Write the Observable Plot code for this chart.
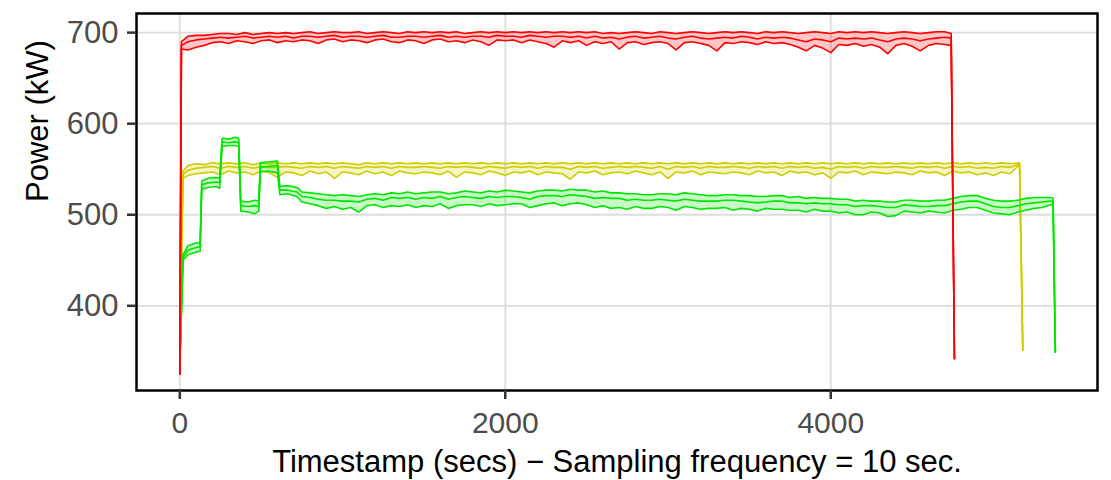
<!DOCTYPE html>
<html>
<head>
<meta charset="utf-8">
<script src="https://cdn.jsdelivr.net/npm/d3@7"></script>
<script src="https://cdn.jsdelivr.net/npm/@observablehq/plot@0.6"></script>
<style>
  html, body { margin: 0; padding: 0; background: white; }
</style>
</head>
<body>
<div id="chart"></div>
<script>
// ---- Data ----
const xTicks = [0, 2000, 4000];
const yTicks = [400, 500, 600, 700];
const xLabel = "Timestamp (secs) \u2212 Sampling frequency = 10 sec.";
const yLabel = "Power (kW)";

// Red series
const redT = [0,10,50,100,150,200,250,300,350,400,450,500,550,600,650,700,750,800,850,900,950,1000,1050,1100,1150,1200,1250,1300,1350,1400,1450,1500,1550,1600,1650,1700,1750,1800,1850,1900,1950,2000,2050,2100,2150,2200,2250,2300,2350,2400,2450,2500,2550,2600,2650,2700,2750,2800,2850,2900,2950,3000,3050,3100,3150,3200,3250,3300,3350,3400,3450,3500,3550,3600,3650,3700,3750,3800,3850,3900,3950,4000,4050,4100,4150,4200,4250,4300,4350,4400,4450,4500,4550,4600,4650,4700,4740,4760];
const redHi  = [325,690,696,697,697,698,699,699,698,700,698,699,700,699,700,699,700,701,699,700,701,700,700,701,699,700,701,700,699,701,700,701,700,701,700,701,699,700,701,700,701,700,701,700,701,700,701,700,701,700,701,700,701,699,700,699,700,701,700,699,701,700,699,700,701,700,699,700,701,700,701,700,699,701,700,701,700,699,700,701,700,699,701,700,701,700,701,700,699,700,701,700,699,700,701,701,699,342];
const redMid = [325,686,690,692,693,694,695,694,695,696,694,695,696,695,696,694,696,696,695,696,697,695,696,696,695,696,697,695,695,696,696,695,696,697,695,696,695,696,696,695,697,696,696,695,697,696,695,696,696,695,696,694,696,694,695,693,695,696,694,695,696,694,693,695,696,694,693,694,695,694,696,695,693,695,694,695,694,692,690,693,692,690,694,693,694,693,694,692,690,693,694,693,691,693,694,695,694,342];
const redLo  = [325,682,681,684,686,689,690,688,691,690,688,691,692,689,691,690,692,691,688,692,693,690,692,691,689,692,693,690,689,692,691,688,692,693,690,691,689,692,690,686,692,691,692,689,692,690,688,684,691,689,691,686,690,688,690,682,689,690,687,689,690,688,681,689,690,688,686,680,689,688,690,689,687,690,688,689,687,684,680,686,683,678,687,686,688,685,687,684,677,686,688,685,680,686,688,687,686,342];

// Yellow series
const yelT = [0,20,50,100,150,200,250,300,350,400,450,500,550,600,650,700,750,800,850,900,950,1000,1050,1100,1150,1200,1250,1300,1350,1400,1450,1500,1550,1600,1650,1700,1750,1800,1850,1900,1950,2000,2050,2100,2150,2200,2250,2300,2350,2400,2450,2500,2550,2600,2650,2700,2750,2800,2850,2900,2950,3000,3050,3100,3150,3200,3250,3300,3350,3400,3450,3500,3550,3600,3650,3700,3750,3800,3850,3900,3950,4000,4050,4100,4150,4200,4250,4300,4350,4400,4450,4500,4550,4600,4650,4700,4750,4800,4850,4900,4950,5000,5050,5100,5160,5180];
const yelHi  = [350,548,554,556,555,557,556,557,556,557,555,557,556,557,556,557,556,557,556,557,556,557,556,555,557,556,557,556,557,556,557,556,557,556,557,556,557,556,557,556,557,556,557,556,557,556,557,556,557,556,557,556,557,556,557,556,557,556,557,556,557,556,557,556,557,556,557,556,557,556,557,556,557,556,557,556,557,556,557,556,557,556,557,556,557,556,557,556,557,556,557,556,557,556,557,556,557,556,557,556,557,556,557,556,557,351];
const yelMid = [350,544,549,551,552,553,551,553,552,553,551,553,552,552,553,552,551,553,552,553,551,553,552,551,553,552,553,551,553,552,552,553,552,551,553,552,553,552,551,553,552,551,553,552,553,551,553,552,552,550,553,552,553,551,552,553,552,553,552,551,553,550,553,552,553,551,553,552,552,553,552,551,553,552,553,551,553,552,553,551,552,550,553,552,553,551,553,552,552,553,552,551,553,552,553,551,553,552,553,551,552,551,553,552,556,351];
const yelLo  = [350,540,543,545,546,547,544,548,546,547,544,548,546,541,547,546,543,548,545,547,540,547,546,544,548,545,547,543,548,546,545,547,546,544,548,541,547,546,544,548,546,543,547,546,548,544,547,546,545,539,547,546,548,544,546,547,545,548,546,544,547,540,547,546,548,544,547,546,545,547,546,544,548,546,547,543,548,546,547,544,546,540,547,546,548,544,547,546,545,547,546,544,548,546,547,543,548,546,547,544,546,543,547,545,555,351];

// Green series
const grnT = [0,20,50,100,125,135,175,225,245,260,300,340,362,375,420,460,485,495,540,600,615,660,720,750,800,850,900,950,1000,1050,1100,1150,1200,1250,1300,1350,1400,1450,1500,1550,1600,1650,1700,1750,1800,1850,1900,1950,2000,2050,2100,2150,2200,2250,2300,2350,2400,2450,2500,2550,2600,2650,2700,2750,2800,2850,2900,2950,3000,3050,3100,3150,3200,3250,3300,3350,3400,3450,3500,3550,3600,3650,3700,3750,3800,3850,3900,3950,4000,4050,4100,4150,4200,4250,4300,4350,4400,4450,4500,4550,4600,4650,4700,4750,4800,4850,4900,4950,5000,5050,5100,5150,5200,5250,5300,5350,5366,5380];
const grnHi  = [334,456,466,469,469,537,540,541,540,584,583,585,584,515,514,516,515,557,558,559,531,532,530,525,524,523,522,521,522,521,520,522,523,522,524,523,525,523,524,525,525,523,524,526,525,524,526,525,527,526,525,524,526,527,527,526,528,527,527,525,526,524,524,523,523,522,522,523,523,522,524,523,522,521,521,522,522,521,521,520,520,521,521,519,520,518,519,518,518,517,517,515,516,515,515,514,514,516,516,515,515,516,516,518,520,521,521,518,516,515,515,516,518,519,519,519,518,349];
const grnMid = [334,453,461,464,465,533,535,536,535,580,579,580,579,510,509,510,509,552,553,554,527,527,525,520,519,517,516,516,515,515,514,517,518,516,519,518,519,517,519,518,520,517,519,520,519,518,520,519,520,520,519,517,520,521,521,520,522,521,520,518,519,518,518,516,517,516,516,517,516,515,517,516,515,515,515,516,516,515,514,513,514,515,515,513,513,512,513,512,512,511,511,509,510,510,509,508,508,511,510,509,509,510,510,512,514,515,515,512,509,508,508,510,512,513,514,515,515,349];
const grnLo  = [334,450,456,459,460,528,530,531,529,575,576,576,575,504,503,501,504,547,548,546,522,523,520,514,512,510,507,509,506,508,503,510,511,508,510,509,511,508,510,509,512,507,510,511,511,509,512,510,511,512,512,508,510,512,513,510,512,513,511,508,510,507,508,506,509,507,507,509,508,505,509,508,506,507,507,508,505,507,506,504,507,506,506,505,505,503,506,504,504,502,503,500,500,503,502,498,499,504,503,502,504,503,502,505,506,508,508,505,502,501,500,503,505,507,508,511,512,349];

// ---- Build rows ----
function rows(t, lo, mid, hi) {
  return t.map((d, i) => ({t: d, lo: lo[i], mid: mid[i], hi: hi[i]}));
}
const series = [
  {name: "yellow", color: "#CDCD00", data: rows(yelT, yelLo, yelMid, yelHi)},
  {name: "green",  color: "#00E600", data: rows(grnT, grnLo, grnMid, grnHi)},
  {name: "red",    color: "#FF0000", data: rows(redT, redLo, redMid, redHi)}
];

const marks = [
  Plot.gridX(xTicks, {stroke: "#DCDCDC", strokeOpacity: 1, strokeWidth: 1.8}),
  Plot.gridY(yTicks, {stroke: "#DCDCDC", strokeOpacity: 1, strokeWidth: 1.8})
];
for (const s of series) {
  marks.push(Plot.areaY(s.data, {x: "t", y1: "lo", y2: "hi", fill: s.color, fillOpacity: 0.22}));
  for (const k of ["lo", "mid", "hi"]) {
    marks.push(Plot.line(s.data, {x: "t", y: k, stroke: s.color, strokeWidth: 1.6}));
  }
}
marks.push(
  Plot.frame({stroke: "black", strokeWidth: 2.5}),
  Plot.axisX(xTicks, {tickSize: 9, tickPadding: 12, stroke: "#333333", strokeWidth: 2.5, fill: "#4D4D4D", fontSize: 30, tickFormat: d => String(d), label: null}),
  Plot.axisY(yTicks, {tickSize: 9, tickPadding: 9, stroke: "#333333", strokeWidth: 2.5, fill: "#4D4D4D", fontSize: 31, tickFormat: d => String(d), label: null}),
  Plot.text([xLabel], {frameAnchor: "bottom", dy: 81, fontSize: 31, fill: "black"}),
  Plot.text([yLabel], {frameAnchor: "left", dx: -98, rotate: -90, fontSize: 31, fill: "black"})
);

const chart = Plot.plot({
  width: 1111,
  height: 480,
  marginLeft: 136,
  marginRight: 14,
  marginTop: 13,
  marginBottom: 90,
  style: {fontFamily: "'Liberation Sans', Arial, sans-serif", background: "white", overflow: "visible"},
  x: {domain: [-266, 5639]},
  y: {domain: [307, 721]},
  marks
});
document.getElementById("chart").appendChild(chart);
</script>
</body>
</html>
